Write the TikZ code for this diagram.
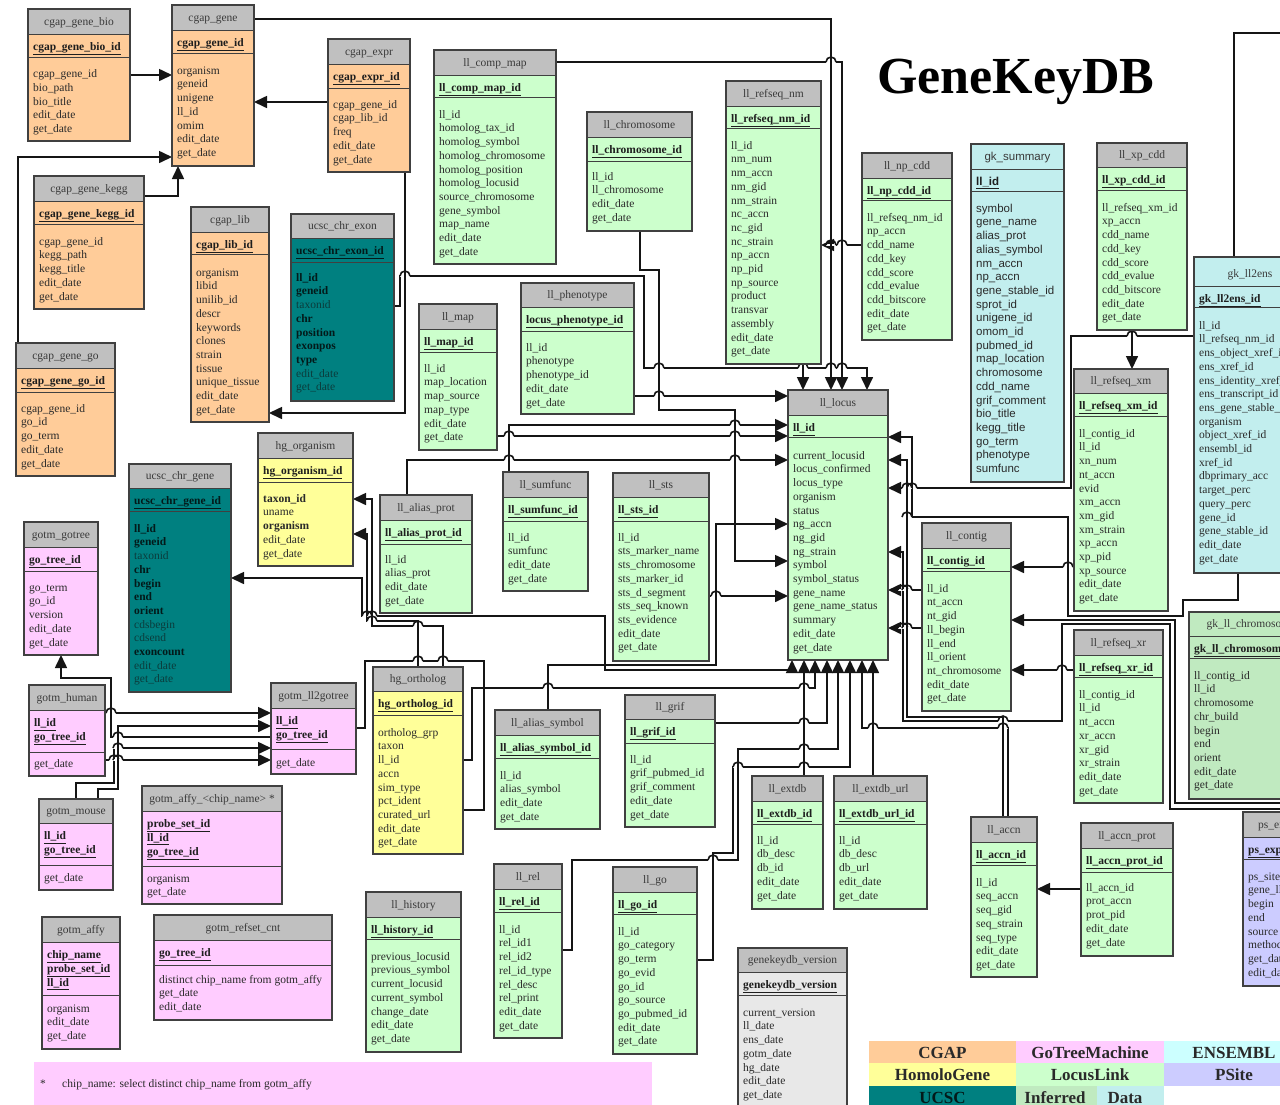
\documentclass[tikz,border=0pt]{standalone}
\usepackage{fontspec}
\setmainfont{Liberation Serif}
\setsansfont{Liberation Sans}
\usetikzlibrary{arrows.meta}
\pgfdeclarelayer{bg}
\pgfsetlayers{bg,main}
\definecolor{cgap}{HTML}{FFCC99}
\definecolor{gotm}{HTML}{FFCCFF}
\definecolor{ens}{HTML}{CCFFFF}
\definecolor{ensdot}{HTML}{C2EEEE}
\definecolor{hg}{HTML}{FFFF99}
\definecolor{ll}{HTML}{CCFFCC}
\definecolor{lldot}{HTML}{C0EAC0}
\definecolor{ps}{HTML}{CCCCFF}
\definecolor{ucsc}{HTML}{008080}
\definecolor{hdr}{HTML}{C0C0C0}
\definecolor{ver}{HTML}{E8E8E8}
\definecolor{bord}{HTML}{404040}
\definecolor{txt}{HTML}{2A2A2A}
\definecolor{ktxt}{HTML}{1E1E1E}
\definecolor{ttlc}{HTML}{3A3A3A}
\definecolor{ucsctxt}{HTML}{031A1A}
\definecolor{ucsclt}{HTML}{0B3C3C}
\definecolor{lnc}{HTML}{151515}
\newcommand\hcol{hdr}
\newcommand\fcol{txt}
\newcommand\kcol{ktxt}
\newcommand\ffam{\rmfamily}
\newcommand\curx{0}
\newcommand\curhb{0}
\newcommand\curkb{0}
\newcommand\curname{x}
\newcommand\kk[1]{\underline{\textbf{#1}}}
\newcommand\ub[1]{\textbf{\color{ucsctxt}#1}}
\tikzset{
  tbox/.style={draw=none,inner sep=0pt,outer sep=0pt},
  sepl/.style={draw=bord,line width=1pt},
  bline/.style={draw=bord,line width=1.3pt},
  ttl/.style={anchor=base,inner sep=0pt,font=\ffam\fontsize{11.5}{13.7}\selectfont,text=ttlc},
  keyt/.style={anchor=north west,inner sep=0pt,align=left,font=\ffam\fontsize{11.5}{13.7}\selectfont,text=\kcol},
  fldt/.style={anchor=north west,inner sep=0pt,align=left,font=\ffam\fontsize{11.5}{13.7}\selectfont,text=\fcol},
  conn/.style={line width=1.6pt,draw=lnc,line join=miter},
  arr/.style={conn,-{Triangle[length=13pt,width=12pt]}},
  arrb/.style={conn,{Triangle[length=13pt,width=12pt]}-{Triangle[length=13pt,width=12pt]}},
  legc/.style={draw=none,inner sep=0pt,anchor=north west},
  legt/.style={anchor=base,inner sep=0pt,font=\bfseries\fontsize{17}{20}\selectfont,text=txt},
}
\newcommand\tb[9]{%
  \node[tbox,fill=#8,minimum width={#4pt-#2pt},minimum height={#5pt-#3pt},anchor=north west] (#1) at (#2,-#3) {};
  \fill[fill=\hcol] (#2,-#3) rectangle (#4,-#6);
  \draw[sepl] (#2,-#6) -- (#4,-#6) (#2,-#7) -- (#4,-#7);
  \draw[bline] (#2,-#3) rectangle (#4,-#5);
  \node[ttl] (#1-t) at ({(#2+#4)/2},{-#6+8.5}) {#9};
  \xdef\curx{#2}\xdef\curhb{#6}\xdef\curkb{#7}\xdef\curname{#1}%
}
\newcommand\tf[3][21]{%
  \node[keyt] (\curname-k) at (\curx+5,-\curhb-7.5) {\rule{0pt}{9pt}#2};
  \node[fldt] (\curname-f) at (\curx+5,-\curkb-#1+9) {\rule{0pt}{9pt}#3};
}
\newcommand\hop[2]{%
  \fill[white] ({#1-5},{-#2-1.3}) rectangle ({#1+5},{-#2+1.3});
  \draw[conn] (#1,{-#2-3}) -- (#1,{-#2+3});
  \draw[conn] ({#1-5},-#2) arc[start angle=180,end angle=0,radius=5];
}
\begin{document}
\catcode`\_=12
\begin{tikzpicture}[x=1pt,y=1pt]
\useasboundingbox (0,0) rectangle (1280,-1104);
\clip (0,0) rectangle (1280,-1104);

% ---------- title ----------
\node[anchor=base west,inner sep=0pt,font=\bfseries\fontsize{52}{60}\selectfont,text=black] (maintitle) at (877,-93) {GeneKeyDB};

% ---------- CGAP ----------
\tb{cgap_gene_bio}{28}{9}{130}{141}{34}{57}{cgap}{cgap_gene_bio}
\tf[20.5]{\kk{cgap_gene_bio_id}}{cgap_gene_id\\bio_path\\bio_title\\edit_date\\get_date}
\tb{cgap_gene}{172}{5}{254}{166}{30}{53}{cgap}{cgap_gene}
\tf{\kk{cgap_gene_id}}{organism\\geneid\\unigene\\ll_id\\omim\\edit_date\\get_date}
\tb{cgap_expr}{328}{39}{410}{172}{64}{88}{cgap}{cgap_expr}
\tf[20]{\kk{cgap_expr_id}}{cgap_gene_id\\cgap_lib_id\\freq\\edit_date\\get_date}
\tb{cgap_gene_kegg}{34}{176}{144}{309}{201}{224}{cgap}{cgap_gene_kegg}
\tf{\kk{cgap_gene_kegg_id}}{cgap_gene_id\\kegg_path\\kegg_title\\edit_date\\get_date}
\tb{cgap_lib}{191}{207}{269}{422}{232}{254}{cgap}{cgap_lib}
\tf[22]{\kk{cgap_lib_id}}{organism\\libid\\unilib_id\\descr\\keywords\\clones\\strain\\tissue\\unique_tissue\\edit_date\\get_date}
\tb{cgap_gene_go}{16}{343}{115}{476}{368}{392}{cgap}{cgap_gene_go}
\tf[20]{\kk{cgap_gene_go_id}}{cgap_gene_id\\go_id\\go_term\\edit_date\\get_date}

% ---------- UCSC ----------
{\renewcommand\fcol{ucsclt}\renewcommand\kcol{ucsctxt}
\tb{ucsc_chr_exon}{291}{214}{394}{401}{238}{262}{ucsc}{ucsc_chr_exon}
\tf[19]{\kk{ucsc_chr_exon_id}}{\ub{ll_id}\\\ub{geneid}\\taxonid\\\ub{chr}\\\ub{position}\\\ub{exonpos}\\\ub{type}\\edit_date\\get_date}
\tb{ucsc_chr_gene}{129}{464}{231}{692}{488}{511}{ucsc}{ucsc_chr_gene}
\tf{\kk{ucsc_chr_gene_id}}{\ub{ll_id}\\\ub{geneid}\\taxonid\\\ub{chr}\\\ub{begin}\\\ub{end}\\\ub{orient}\\cdsbegin\\cdsend\\\ub{exoncount}\\edit_date\\get_date}
}

% ---------- LocusLink ----------
\tb{ll_comp_map}{434}{50}{556}{264}{75}{97}{ll}{ll_comp_map}
\tf{\kk{ll_comp_map_id}}{ll_id\\homolog_tax_id\\homolog_symbol\\homolog_chromosome\\homolog_position\\homolog_locusid\\source_chromosome\\gene_symbol\\map_name\\edit_date\\get_date}
\tb{ll_chromosome}{587}{112}{692}{231}{137}{161}{ll}{ll_chromosome}
\tf[19]{\kk{ll_chromosome_id}}{ll_id\\ll_chromosome\\edit_date\\get_date}
\tb{ll_refseq_nm}{726}{81}{821}{364}{106}{128}{ll}{ll_refseq_nm}
\tf{\kk{ll_refseq_nm_id}}{ll_id\\nm_num\\nm_accn\\nm_gid\\nm_strain\\nc_accn\\nc_gid\\nc_strain\\np_accn\\np_pid\\np_source\\product\\transvar\\assembly\\edit_date\\get_date}
\tb{ll_phenotype}{521}{283}{634}{414}{307}{331}{ll}{ll_phenotype}
\tf[20]{\kk{locus_phenotype_id}}{ll_id\\phenotype\\phenotype_id\\edit_date\\get_date}
\tb{ll_map}{419}{304}{497}{450}{329}{352}{ll}{ll_map}
\tf[20]{\kk{ll_map_id}}{ll_id\\map_location\\map_source\\map_type\\edit_date\\get_date}
\tb{ll_np_cdd}{862}{153}{952}{340}{178}{200}{ll}{ll_np_cdd}
\tf{\kk{ll_np_cdd_id}}{ll_refseq_nm_id\\np_accn\\cdd_name\\cdd_key\\cdd_score\\cdd_evalue\\cdd_bitscore\\edit_date\\get_date}
\tb{ll_xp_cdd}{1097}{143}{1187}{330}{167}{190}{ll}{ll_xp_cdd}
\tf{\kk{ll_xp_cdd_id}}{ll_refseq_xm_id\\xp_accn\\cdd_name\\cdd_key\\cdd_score\\cdd_evalue\\cdd_bitscore\\edit_date\\get_date}
\tb{ll_refseq_xm}{1074}{369}{1168}{611}{393}{416}{ll}{ll_refseq_xm}
\tf{\kk{ll_refseq_xm_id}}{ll_contig_id\\ll_id\\xn_num\\nt_accn\\evid\\xm_accn\\xm_gid\\xm_strain\\xp_accn\\xp_pid\\xp_source\\edit_date\\get_date}
\tb{ll_locus}{788}{390}{888}{660}{415}{437}{ll}{ll_locus}
\tf[22]{\kk{ll_id}}{current_locusid\\locus_confirmed\\locus_type\\organism\\status\\ng_accn\\ng_gid\\ng_strain\\symbol\\symbol_status\\gene_name\\gene_name_status\\summary\\edit_date\\get_date}
\tb{ll_alias_prot}{380}{495}{472}{613}{520}{544}{ll}{ll_alias_prot}
\tf[19]{\kk{ll_alias_prot_id}}{ll_id\\alias_prot\\edit_date\\get_date}
\tb{ll_sumfunc}{503}{472}{588}{591}{497}{521}{ll}{ll_sumfunc}
\tf[20]{\kk{ll_sumfunc_id}}{ll_id\\sumfunc\\edit_date\\get_date}
\tb{ll_sts}{613}{473}{709}{661}{497}{521}{ll}{ll_sts}
\tf[20]{\kk{ll_sts_id}}{ll_id\\sts_marker_name\\sts_chromosome\\sts_marker_id\\sts_d_segment\\sts_seq_known\\sts_evidence\\edit_date\\get_date}
\tb{ll_contig}{922}{523}{1011}{711}{548}{571}{ll}{ll_contig}
\tf{\kk{ll_contig_id}}{ll_id\\nt_accn\\nt_gid\\ll_begin\\ll_end\\ll_orient\\nt_chromosome\\edit_date\\get_date}
\tb{ll_alias_symbol}{495}{710}{600}{829}{735}{758}{ll}{ll_alias_symbol}
\tf{\kk{ll_alias_symbol_id}}{ll_id\\alias_symbol\\edit_date\\get_date}
\tb{ll_grif}{625}{695}{715}{827}{719}{743}{ll}{ll_grif}
\tf[20]{\kk{ll_grif_id}}{ll_id\\grif_pubmed_id\\grif_comment\\edit_date\\get_date}
\tb{ll_history}{366}{892}{461}{1052}{917}{939}{ll}{ll_history}
\tf{\kk{ll_history_id}}{previous_locusid\\previous_symbol\\current_locusid\\current_symbol\\change_date\\edit_date\\get_date}
\tb{ll_extdb}{752}{776}{823}{909}{801}{824}{ll}{ll_extdb}
\tf[20]{\kk{ll_extdb_id}}{ll_id\\db_desc\\db_id\\edit_date\\get_date}
\tb{ll_extdb_url}{834}{776}{927}{909}{801}{824}{ll}{ll_extdb_url}
\tf[20]{\kk{ll_extdb_url_id}}{ll_id\\db_desc\\db_url\\edit_date\\get_date}
\tb{ll_rel}{494}{864}{562}{1038}{889}{912}{ll}{ll_rel}
\tf{\kk{ll_rel_id}}{ll_id\\rel_id1\\rel_id2\\rel_id_type\\rel_desc\\rel_print\\edit_date\\get_date}
\tb{ll_go}{613}{867}{697}{1054}{892}{914}{ll}{ll_go}
\tf{\kk{ll_go_id}}{ll_id\\go_category\\go_term\\go_evid\\go_id\\go_source\\go_pubmed_id\\edit_date\\get_date}
\tb{ll_accn}{971}{817}{1037}{977}{842}{865}{ll}{ll_accn}
\tf{\kk{ll_accn_id}}{ll_id\\seq_accn\\seq_gid\\seq_strain\\seq_type\\edit_date\\get_date}
\tb{ll_accn_prot}{1081}{823}{1173}{956}{848}{872}{ll}{ll_accn_prot}
\tf[19]{\kk{ll_accn_prot_id}}{ll_accn_id\\prot_accn\\prot_pid\\edit_date\\get_date}
\tb{ll_refseq_xr}{1074}{630}{1163}{803}{655}{677}{ll}{ll_refseq_xr}
\tf{\kk{ll_refseq_xr_id}}{ll_contig_id\\ll_id\\nt_accn\\xr_accn\\xr_gid\\xr_strain\\edit_date\\get_date}

% ---------- version ----------
\tb{genekeydb_version}{738}{948}{847}{1115}{972}{995}{ver}{genekeydb_version}
\tf{\kk{genekeydb_version}}{current_version\\ll_date\\ens_date\\gotm_date\\hg_date\\edit_date\\get_date}

% ---------- inferred / ENSEMBL ----------
{\renewcommand\hcol{ensdot}\renewcommand\ffam{\sffamily}
\tb{gk_summary}{971}{144}{1064}{482}{169}{191}{ensdot}{gk_summary}
\tf{\kk{ll_id}}{symbol\\gene_name\\alias_prot\\alias_symbol\\nm_accn\\np_accn\\gene_stable_id\\sprot_id\\unigene_id\\omom_id\\pubmed_id\\map_location\\chromosome\\cdd_name\\grif_comment\\bio_title\\kegg_title\\go_term\\phenotype\\sumfunc}
}
{\renewcommand\hcol{ensdot}
\tb{gk_ll2ens}{1194}{257}{1306}{573}{286}{307}{ensdot}{gk_ll2ens}
\tf[22]{\kk{gk_ll2ens_id}}{ll_id\\ll_refseq_nm_id\\ens_object_xref_id\\ens_xref_id\\ens_identity_xref_id\\ens_transcript_id\\ens_gene_stable_id\\organism\\object_xref_id\\ensembl_id\\xref_id\\dbprimary_acc\\target_perc\\query_perc\\gene_id\\gene_stable_id\\edit_date\\get_date}
}
{\renewcommand\hcol{lldot}
\tb{gk_ll_chromosome}{1189}{612}{1313}{799}{636}{658}{lldot}{gk_ll_chromosome}
\tf{\kk{gk_ll_chromosome_id}}{ll_contig_id\\ll_id\\chromosome\\chr_build\\begin\\end\\orient\\edit_date\\get_date}
}
\tb{ps_exp}{1243}{812}{1345}{986}{837}{859}{ps}{}
\node[ttl,anchor=base west] (ps_exp-tt) at (1258,-828.5) {ps_exp};
\tf{\kk{ps_exp_id}}{ps_site_id\\gene_ll_id\\begin\\end\\source\\method\\get_date\\edit_date}

% ---------- HomoloGene ----------
\tb{hg_organism}{258}{433}{353}{566}{458}{482}{hg}{hg_organism}
\tf[20]{\kk{hg_organism_id}}{\textbf{taxon_id}\\uname\\\textbf{organism}\\edit_date\\get_date}
\tb{hg_ortholog}{373}{667}{463}{854}{691}{715}{hg}{hg_ortholog}
\tf{\kk{hg_ortholog_id}}{ortholog_grp\\taxon\\ll_id\\accn\\sim_type\\pct_ident\\curated_url\\edit_date\\get_date}

% ---------- GoTreeMachine ----------
\tb{gotm_gotree}{24}{522}{98}{655}{547}{571}{gotm}{gotm_gotree}
\tf[20]{\kk{go_tree_id}}{go_term\\go_id\\version\\edit_date\\get_date}
\tb{gotm_human}{29}{685}{105}{776}{710}{752}{gotm}{gotm_human}
\tf[15]{\kk{ll_id}\\\kk{go_tree_id}}{get_date}
\tb{gotm_ll2gotree}{271}{683}{356}{774}{708}{749}{gotm}{gotm_ll2gotree}
\tf[17]{\kk{ll_id}\\\kk{go_tree_id}}{get_date}
\tb{gotm_mouse}{39}{799}{113}{890}{823}{865}{gotm}{gotm_mouse}
\tf[16]{\kk{ll_id}\\\kk{go_tree_id}}{get_date}
\tb{gotm_affy_chip}{142}{786}{282}{904}{811}{866}{gotm}{gotm_affy_<chip_name> *}
\tf[16]{\kk{probe_set_id}\\\kk{ll_id}\\\kk{go_tree_id}}{organism\\get_date}
\tb{gotm_affy}{42}{917}{120}{1049}{942}{995}{gotm}{gotm_affy}
\tf[17]{\kk{chip_name}\\\kk{probe_set_id}\\\kk{ll_id}}{organism\\edit_date\\get_date}
\tb{gotm_refset_cnt}{154}{915}{332}{1020}{940}{965}{gotm}{gotm_refset_cnt}
\tf[18]{\kk{go_tree_id}}{distinct chip_name from gotm_affy\\get_date\\edit_date}

% ---------- note ----------
\node[legc,fill=gotm,minimum width=618pt,minimum height=44pt] (note) at (34,-1062) {};
\node[anchor=base west,inner sep=0pt,font=\fontsize{11.5}{13.7}\selectfont,text=txt] (note-s) at (40,-1087) {*};
\node[anchor=base west,inner sep=0pt,font=\fontsize{11.5}{13.7}\selectfont,text=txt] (note-t) at (62,-1087) {chip_name: select distinct chip_name from gotm_affy};

% ---------- legend ----------
\node[legc,fill=cgap,minimum width=147pt,minimum height=22pt] (lg1) at (869,-1041) {};
\node[legc,fill=gotm,minimum width=148pt,minimum height=22pt] (lg2) at (1016,-1041) {};
\node[legc,fill=ens,minimum width=140pt,minimum height=22pt] (lg3) at (1164,-1041) {};
\node[legc,fill=hg,minimum width=147pt,minimum height=23pt] (lg4) at (869,-1063) {};
\node[legc,fill=ll,minimum width=148pt,minimum height=23pt] (lg5) at (1016,-1063) {};
\node[legc,fill=ps,minimum width=140pt,minimum height=23pt] (lg6) at (1164,-1063) {};
\node[legc,fill=ucsc,minimum width=147pt,minimum height=25pt] (lg7) at (869,-1086) {};
\node[legc,fill=lldot,minimum width=81pt,minimum height=25pt] (lg8) at (1016,-1086) {};
\node[legc,fill=ensdot,minimum width=67pt,minimum height=25pt] (lg9) at (1097,-1086) {};
\node[legt] (lg1-t) at (942.5,-1058) {CGAP};
\node[legt] (lg2-t) at (1090,-1058) {GoTreeMachine};
\node[legt] (lg3-t) at (1234,-1058) {ENSEMBL};
\node[legt] (lg4-t) at (942.5,-1080.5) {HomoloGene};
\node[legt] (lg5-t) at (1090,-1080.5) {LocusLink};
\node[legt] (lg6-t) at (1234,-1080.5) {PSite};
\node[legt,text=ucsctxt] (lg7-t) at (942.5,-1103) {UCSC};
\node[legt] (lg8-t) at (1055,-1103) {Inferred};
\node[legt] (lg9-t) at (1125,-1103) {Data};

\coordinate (offA) at (1282,-809);
\coordinate (offB) at (1282,-803);
\coordinate (offC) at (1282,-33);

% ---------- connectors ----------
\begin{pgfonlayer}{bg}
\fill[white] (0,0) rectangle (1280,-1104);
% CGAP
\draw[arr] (cgap_gene_bio.east |- 0,-75) -- (cgap_gene.west |- 0,-75);
\draw[arr] (cgap_expr.west |- 0,-102) -- (cgap_gene.east |- 0,-102);
\draw[arr] (cgap_gene_go.north -| 18,0) -- (18,-157) -- (cgap_gene.west |- 0,-157);
\draw[arr] (cgap_gene_kegg.east |- 0,-196) -- (178,-196) -- (cgap_gene.south -| 178,0);
\draw[arr] (cgap_expr.south -| 405,0) -- (405,-413) -- (cgap_lib.east |- 0,-413);
% top of ll_locus
\draw[arr] (cgap_gene.east |- 0,-19) -- (831,-19) -- (ll_locus.north -| 831,0);
\draw[arr] (ll_comp_map.east |- 0,-62) -- (842,-62) -- (ll_locus.north -| 842,0);
\draw[arr] (ll_refseq_nm.south -| 803,0) -- (ll_locus.north -| 803,0);
\draw[arr] (ucsc_chr_exon.east |- 0,-306) -- (400,-306) -- (400,-276) -- (644,-276) -- (644,-368) -- (867,-368) -- (ll_locus.north -| 867,0);
\draw[arr] (ll_np_cdd.west |- 0,-245) -- (ll_refseq_nm.east |- 0,-245);
\draw[arr] (ll_xp_cdd.south -| 1132,0) -- (ll_refseq_xm.north -| 1132,0);
% left of ll_locus
\draw[arr] (ll_chromosome.south -| 640,0) -- (640,-270) -- (659,-270) -- (659,-410) -- (735,-410) -- (735,-561) -- (ll_locus.west |- 0,-561);
\draw[arr] (ll_phenotype.east |- 0,-396) -- (ll_locus.west |- 0,-396);
\draw[arr] (ll_sumfunc.north -| 509,0) -- (509,-425) -- (ll_locus.west |- 0,-425);
\draw[arr] (ll_map.east |- 0,-436) -- (ll_locus.west |- 0,-436);
\draw[arr] (ll_alias_prot.north -| 407,0) -- (407,-460) -- (ll_locus.west |- 0,-460);
\draw[arr] (ll_alias_symbol.north -| 548,0) -- (548,-665) -- (716,-665) -- (716,-524) -- (ll_locus.west |- 0,-524);
\draw[arr] (ll_sts.east |- 0,-596) -- (ll_locus.west |- 0,-596);
% HomoloGene / UCSC
\draw[arrb] (ucsc_chr_gene.east |- 0,-578) -- (362,-578) -- (362,-616) -- (605,-616) -- (605,-670) -- (792,-670) -- (ll_locus.south -| 792,0);
\draw[arr] (hg_ortholog.north -| 418,0) -- (418,-621) -- (367,-621) -- (367,-534) -- (hg_organism.east |- 0,-534);
\draw[arr] (hg_ortholog.north -| 443,0) -- (443,-626) -- (372,-626) -- (372,-499) -- (hg_organism.east |- 0,-499);
\draw[arr] (hg_ortholog.east |- 0,-760) -- (472,-760) -- (472,-688) -- (815,-688) -- (ll_locus.south -| 815,0);
\draw[conn] (gotm_ll2gotree.east |- 0,-728) -- (365,-728) -- (365,-661) -- (484,-661) -- (484,-810) -- (hg_ortholog.east |- 0,-810);
% bottom of ll_locus
\draw[arr] (ll_grif.east |- 0,-723) -- (827,-723) -- (ll_locus.south -| 827,0);
\draw[arr] (ll_extdb.north -| 804,0) -- (ll_locus.south -| 804,0);
\draw[arr] (ll_extdb_url.north -| 873,0) -- (ll_locus.south -| 873,0);
\draw[arr] (ll_rel.east |- 0,-950) -- (572,-950) -- (572,-860) -- (738,-860) -- (738,-749) -- (838,-749) -- (ll_locus.south -| 838,0);
\draw[arr] (ll_go.east |- 0,-960) -- (713,-960) -- (713,-853) -- (733,-853) -- (733,-767) -- (850,-767) -- (ll_locus.south -| 850,0);
\draw[arr] (ll_accn.north -| 1008,0) -- (1008,-728) -- (862,-728) -- (ll_locus.south -| 862,0);
% right of ll_locus
\draw[arr] (gk_ll2ens.west |- 0,-336) -- (1071,-336) -- (1071,-488) -- (ll_locus.east |- 0,-488);
\draw[arr] (gk_ll2ens.south -| 1238,0) -- (1238,-600) -- (1183,-600) -- (1183,-616) -- (1068,-616) -- (1068,-517) -- (912,-517) -- (912,-437) -- (ll_locus.east |- 0,-437);
\draw[arr] (ll_contig.west |- 0,-590) -- (ll_locus.east |- 0,-590);
\draw[arr] (ll_contig.west |- 0,-628) -- (ll_locus.east |- 0,-628);
\draw[arr] (ll_accn.north -| 1003,0) -- (1003,-717) -- (907,-717) -- (907,-460) -- (ll_locus.east |- 0,-460);
\draw[arr] (offA) -- (1170,-809) -- (1170,-624) -- (1062,-624) -- (1062,-721) -- (903,-721) -- (903,-552) -- (ll_locus.east |- 0,-552);
\draw[arr] (offB) -- (1175,-803) -- (1175,-620) -- (ll_contig.east |- 0,-620);
\draw[arr] (ll_refseq_xm.west |- 0,-567) -- (ll_contig.east |- 0,-567);
\draw[arr] (ll_refseq_xr.west |- 0,-670) -- (ll_contig.east |- 0,-670);
\draw[arr] (ll_accn_prot.west |- 0,-889) -- (ll_accn.east |- 0,-889);
\draw[conn] (gk_ll2ens.north -| 1234,0) -- (1234,-33) -- (offC);
% GoTreeMachine
\draw[arr] (gotm_ll2gotree.west |- 0,-737) -- (111,-737) -- (111,-678) -- (61,-678) -- (gotm_gotree.south -| 61,0);
\draw[arr] (gotm_human.east |- 0,-713) -- (gotm_ll2gotree.west |- 0,-713);
\draw[arr] (gotm_mouse.north -| 98,0) -- (98,-789) -- (118,-789) -- (118,-726) -- (gotm_ll2gotree.west |- 0,-726);
\draw[arr] (gotm_mouse.north -| 76,0) -- (76,-783) -- (114,-783) -- (114,-748) -- (gotm_ll2gotree.west |- 0,-748);
\draw[arr] (gotm_human.east |- 0,-760) -- (gotm_ll2gotree.west |- 0,-760);
% hops
\hop{405}{276}\hop{659}{368}\hop{803}{368}\hop{831}{368}\hop{842}{368}
\hop{831}{62}\hop{831}{245}\hop{842}{245}
\hop{659}{396}\hop{735}{425}\hop{735}{436}\hop{735}{460}\hop{509}{436}\hop{509}{460}
\hop{716}{596}\hop{1132}{336}\hop{912}{488}\hop{907}{488}\hop{907}{517}
\hop{903}{590}\hop{907}{590}\hop{903}{628}\hop{907}{628}
\hop{1068}{567}\hop{1062}{670}\hop{1003}{721}\hop{1003}{728}\hop{873}{728}
\hop{804}{723}\hop{548}{688}\hop{804}{688}\hop{804}{749}\hop{738}{767}\hop{804}{767}
\hop{713}{860}\hop{418}{661}\hop{443}{661}
\hop{111}{713}\hop{118}{737}\hop{114}{760}\hop{118}{760}\hop{118}{748}
\hop{367}{616}\hop{372}{616}\hop{372}{621}\hop{418}{626}
\end{pgfonlayer}
\end{tikzpicture}
\end{document}
